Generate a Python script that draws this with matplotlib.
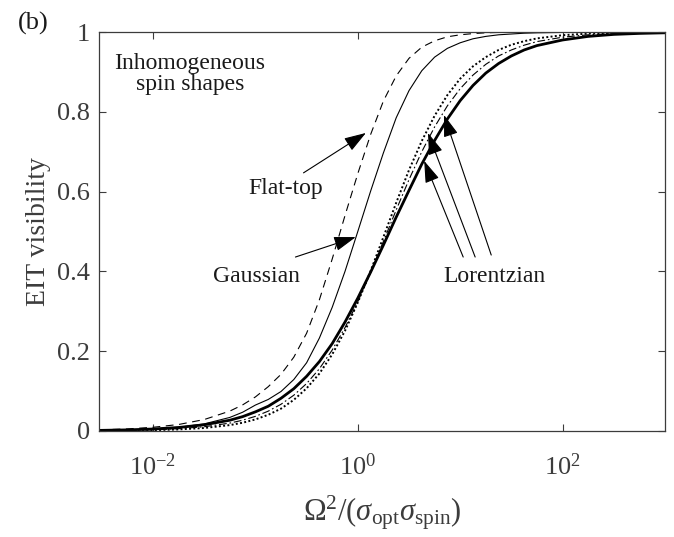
import matplotlib
matplotlib.use('Agg')
import matplotlib.pyplot as plt
import numpy as np

# log10 of Omega^2/(sigma_opt sigma_spin), shared by all curves
log_x = [-2.525, -2.25, -2.0, -1.75, -1.5, -1.25, -1.125, -1.0, -0.875, -0.75, -0.625, -0.5,
         -0.375, -0.25, -0.125, 0.0, 0.125, 0.25, 0.375, 0.5, 0.625, 0.75, 0.875, 1.0,
         1.125, 1.25, 1.375, 1.5, 1.625, 1.75, 2.0, 2.25, 2.5, 2.75, 3.0]

# EIT visibility for each spin shape
flat_top = [0.0028, 0.0052, 0.0093, 0.0163, 0.0287, 0.0499, 0.0654, 0.0854, 0.111, 0.142, 0.185, 0.245,
            0.329, 0.431, 0.54, 0.645, 0.743, 0.827, 0.89, 0.934, 0.962, 0.978, 0.988, 0.993,
            0.996, 0.998, 0.999, 0.9993, 1.0, 1.0, 1.0, 1.0, 1.0, 1.0, 1.0]
gaussian = [0.0012, 0.0025, 0.0048, 0.0093, 0.0178, 0.034, 0.047, 0.065, 0.079, 0.099, 0.129, 0.171,
            0.233, 0.31, 0.40, 0.5, 0.601, 0.697, 0.785, 0.853, 0.903, 0.937, 0.959, 0.973,
            0.983, 0.989, 0.993, 0.995, 0.997, 0.998, 0.999, 1.0, 1.0, 1.0, 1.0]
lorentz_dot = [0.0005, 0.001, 0.002, 0.004, 0.0075, 0.0148, 0.0207, 0.029, 0.0406, 0.056, 0.078, 0.107,
               0.144, 0.192, 0.251, 0.322, 0.401, 0.486, 0.572, 0.654, 0.727, 0.79, 0.842, 0.883,
               0.914, 0.937, 0.955, 0.968, 0.977, 0.984, 0.992, 0.996, 0.998, 0.999, 0.9995]
lorentz_dashdot = [0.0008, 0.0016, 0.003, 0.0057, 0.0106, 0.0198, 0.027, 0.0367, 0.0497, 0.067, 0.0897, 0.119,
                   0.156, 0.203, 0.259, 0.324, 0.397, 0.475, 0.554, 0.63, 0.70, 0.762, 0.815, 0.858,
                   0.892, 0.919, 0.94, 0.955, 0.967, 0.976, 0.987, 0.993, 0.996, 0.998, 0.999]
lorentz_thick = [0.0015, 0.0028, 0.005, 0.0088, 0.0156, 0.027, 0.036, 0.048, 0.062, 0.082, 0.106, 0.137,
                 0.174, 0.219, 0.273, 0.333, 0.398, 0.466, 0.536, 0.603, 0.669, 0.728, 0.782, 0.828,
                 0.866, 0.897, 0.921, 0.94, 0.955, 0.966, 0.98, 0.989, 0.994, 0.9965, 0.998]

x_ticks = [1e-2, 1e0, 1e2]
x_tick_labels = [r'$\mathregular{10^{-2}}$', r'$\mathregular{10^{0}}$', r'$\mathregular{10^{2}}$']
y_ticks = [0, 0.2, 0.4, 0.6, 0.8, 1]
y_tick_labels = ['0', '0.2', '0.4', '0.6', '0.8', '1']

plt.rcParams['font.family'] = ['Liberation Serif', 'DejaVu Serif']
plt.rcParams['mathtext.fontset'] = 'custom'
plt.rcParams['mathtext.rm'] = 'Liberation Serif'
plt.rcParams['mathtext.it'] = 'Liberation Serif:italic'

axis_grey = '#3c3c3c'

fig = plt.figure(figsize=(6.74, 5.37), dpi=100)
ax = fig.add_axes([0.1476, 0.1974, 0.839, 0.743])

x = np.power(10.0, log_x)
ax.plot(x, flat_top, color='k', lw=0.8, dashes=[7, 5])
ax.plot(x, gaussian, color='k', lw=0.8)
ax.plot(x, lorentz_dot, color='k', lw=1.4, linestyle=(0, (1, 1.2)))
ax.plot(x, lorentz_dashdot, color='k', lw=0.8, linestyle=(0, (7, 2.5, 1.5, 2.5)))
ax.plot(x, lorentz_thick, color='k', lw=2.0)

ax.set_xscale('log')
ax.set_xlim(3e-3, 1e3)
ax.set_ylim(0, 1)
ax.set_xticks(x_ticks)
ax.set_xticklabels(x_tick_labels)
ax.minorticks_off()
ax.set_yticks(y_ticks)
ax.set_yticklabels(y_tick_labels)
ax.tick_params(direction='in', length=5, width=0.8, top=True, right=True,
               labelsize=19, colors=axis_grey)
ax.tick_params(axis='x', pad=16)
ax.tick_params(axis='y', pad=7)
for s in ax.spines.values():
    s.set_color(axis_grey)
    s.set_linewidth(0.9)

ax.set_xlabel(r'$\Omega^2/(\sigma_{\mathregular{opt}}\sigma_{\mathregular{spin}})$',
              fontsize=22, color=axis_grey, labelpad=10)
ax.set_ylabel('EIT visibility', fontsize=20, color=axis_grey, labelpad=4)

# annotations
arrow = dict(arrowstyle='-|>,head_length=0.75,head_width=0.25', color='k', lw=0.8,
             shrinkA=0, shrinkB=0, mutation_scale=18)
ax.annotate('', xy=(1.2, 0.747), xytext=(0.295, 0.647), arrowprops=arrow)
ax.annotate('', xy=(0.955, 0.486), xytext=(0.246, 0.436), arrowprops=arrow)
ax.annotate('', xy=(4.45, 0.677), xytext=(10.7, 0.436), arrowprops=arrow)
ax.annotate('', xy=(4.85, 0.747), xytext=(14.0, 0.436), arrowprops=arrow)
ax.annotate('', xy=(6.95, 0.792), xytext=(20.1, 0.441), arrowprops=arrow)

txt = dict(fontsize=17, color='#1a1a1a', ha='center', va='center')
ax.text(0.197, 0.609, 'Flat-top', **txt)
ax.text(0.102, 0.388, 'Gaussian', **txt)
ax.text(21.4, 0.388, 'Lorentzian', **txt)
ax.text(0.023, 0.895, 'Inhomogeneous\nspin shapes', linespacing=1.0, **txt)

fig.text(0.05, 0.957, '(b)', fontsize=19, color='#1a1a1a', ha='center', va='center')

fig.savefig('out.png', dpi=100)
